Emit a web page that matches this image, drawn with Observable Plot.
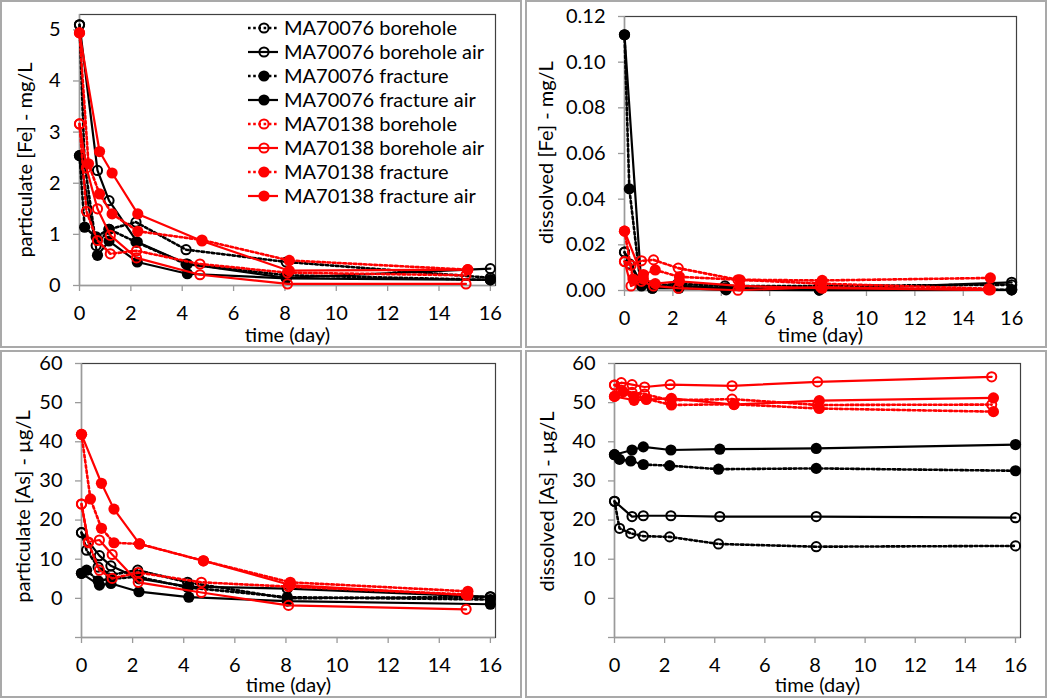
<!DOCTYPE html>
<html><head><meta charset="utf-8">
<script src="https://cdn.jsdelivr.net/npm/d3@7"></script>
<script src="https://cdn.jsdelivr.net/npm/@observablehq/plot@0.6"></script>
<style>
body{margin:0;background:#fff;font-family:Lato,sans-serif;}
#wrap{position:relative;width:1050px;height:700px;overflow:hidden;background:#fff}
.panel{position:absolute;width:525px;height:350px}
.border{position:absolute;border:2px solid #a9a9a9;box-sizing:border-box;pointer-events:none}
.legend{position:absolute;left:0;top:0;pointer-events:none}
</style></head><body><div id="wrap"></div>
<script>
// ---------- series definitions ----------
const seriesNames = ["MA70076 borehole","MA70076 borehole air","MA70076 fracture","MA70076 fracture air",
                     "MA70138 borehole","MA70138 borehole air","MA70138 fracture","MA70138 fracture air"];
const seriesColors = ["#000000","#000000","#000000","#000000","#ff0000","#ff0000","#ff0000","#ff0000"];
const seriesDotted = [true,false,true,false,true,false,true,false];
const seriesFilled = [false,false,true,true,false,false,true,true];

// ---------- sampling times (day) ----------
const tA = [0,0.2,0.65,1.15,2.2,4.15,8.05,16];
const tB = [0,0.7,1.15,2.25,4.2,8.05,16];
const tE = [0,0.27,0.7,1.2,2.22,4.69,8.1,15.05];
const tG = [0,0.35,0.78,1.27,2.27,4.77,8.17,15.12];
const tH = [0,0.78,1.27,2.27,4.77,8.17,15.12];
const seriesTimes = [tA,tB,tA,tB,tE,tE,tG,tH];

// ---------- particulate Fe (mg/L) ----------
const partFe = [
  [5.10,2.38,0.78,1.10,1.24,0.70,0.46,0.15],
  [5.10,2.25,1.66,0.85,0.42,0.15,0.33],
  [2.54,1.14,0.95,1.10,0.85,0.42,0.20,0.11],
  [2.54,0.59,0.87,0.46,0.23,0.14,0.11],
  [3.16,1.45,0.88,0.62,0.68,0.42,0.25,0.20],
  [3.16,2.30,1.50,0.98,0.54,0.21,0.03,0.03],
  [4.94,2.38,1.79,1.40,1.06,0.89,0.49,0.31],
  [4.94,2.62,2.20,1.40,0.87,0.29,0.31]
];
// ---------- dissolved Fe (mg/L) ----------
const dissFe = [
  [0.0168,0.0117,0.004,0.002,0.003,0.002,0.002,0.0025],
  [0.0168,0.003,0.001,0.002,0.001,0.0005,0.0036],
  [0.112,0.0445,0.004,0.002,0.002,0.001,0.0003,0.0003],
  [0.112,0.002,0.001,0.001,0.0003,0.0002,0.0003],
  [0.0127,0.011,0.013,0.0134,0.0098,0.0047,0.003,0.0008],
  [0.0127,0.002,0.004,0.002,0.001,0.0001,0.0015,0.0003],
  [0.026,0.005,0.007,0.009,0.006,0.0047,0.0044,0.0055],
  [0.026,0.005,0.003,0.004,0.002,0.001,0.0003]
];
// ---------- particulate As (µg/L) ----------
const partAs = [
  [16.8,12.3,8.0,6.0,7.2,4.1,0.0,0.4],
  [16.8,10.9,8.3,5.0,3.0,2.5,0.4],
  [6.4,7.2,4.5,5.0,5.5,2.8,0.3,-0.3],
  [6.4,3.4,3.8,1.7,0.3,-0.7,-1.5],
  [24.1,14.2,7.2,5.1,6.6,4.1,3.0,1.0],
  [24.1,14.4,14.9,11.2,4.1,1.5,-1.8,-2.8],
  [41.9,25.4,17.9,14.2,13.9,9.6,4.1,1.8],
  [41.9,29.4,22.8,13.9,9.6,3.4,0.8]
];
// ---------- dissolved As (µg/L) ----------
const dissAs = [
  [24.8,17.9,16.6,15.9,15.7,13.9,13.2,13.4],
  [24.8,20.9,21.1,21.1,20.9,20.9,20.6],
  [36.7,35.5,35.1,34.2,33.9,33.0,33.2,32.6],
  [36.7,37.9,38.7,37.9,38.1,38.3,39.3],
  [54.5,53.2,52.6,52.2,50.6,50.9,49.4,49.5],
  [54.5,55.1,54.6,54.0,54.6,54.3,55.3,56.6],
  [51.6,52.8,51.6,51.0,49.4,49.6,48.5,47.7],
  [51.6,50.6,50.8,51.1,49.5,50.5,51.2]
];

// ---------- axis ticks & labels ----------
const xTicks = [0,2,4,6,8,10,12,14,16];
const xLabel = "time (day)";
const yTicksFe1 = [0,1,2,3,4,5];
const yTicksFe2 = [0,0.02,0.04,0.06,0.08,0.10,0.12];
const yTicksAs = [-10,0,10,20,30,40,50,60];
const yLabels = ["particulate [Fe] - mg/L","dissolved [Fe] - mg/L","particulate [As] - µg/L","dissolved [As] - µg/L"];

const FONT = "Lato, 'Open Sans', sans-serif";

function rowsOf(values){
  return values.map((vals,i)=>seriesTimes[i].map((t,j)=>({t, v: vals[j], s: i})));
}

function panel(cfg){
  const rows = rowsOf(cfg.values);
  const marks = [
    Plot.frame({stroke:"#404040", strokeWidth:1.2}),
    Plot.ruleX([0], {stroke:"#9a9a9a", strokeWidth:1.4}),
    Plot.ruleY([cfg.yDomain[0]], {stroke:"#9a9a9a", strokeWidth:1.4}),
    Plot.axisX({ticks: xTicks, tickSize: 6, tickPadding: 14, stroke:"#9a9a9a", strokeWidth:1.3, fill:"#000", label:null, fontSize:20}),
    Plot.axisY({ticks: cfg.yTicks, tickSize: 6, tickPadding: 13, stroke:"#9a9a9a", strokeWidth:1.3, fill:"#000", label:null, fontSize:20, tickFormat: cfg.yFmt}),
    Plot.text([xLabel], {text: d=>d, frameAnchor:"bottom", lineAnchor:"middle", textAnchor:"middle", dy: cfg.xdy, fontSize: 20, fill:"#000"}),
    Plot.text([cfg.ylabel], {text: d=>d, frameAnchor:"left", lineAnchor:"middle", textAnchor:"middle", rotate:-90, dx: cfg.ydx, dy: cfg.ydy, fontSize: 20, fill:"#000"})
  ];
  rows.forEach((r,i)=>{
    const c = seriesColors[i];
    marks.push(Plot.line(r, {x:"t", y:"v", stroke:c, strokeWidth: seriesDotted[i]?2.6:2.2,
      strokeDasharray: seriesDotted[i]?"2.6,2.6":null}));
    marks.push(Plot.dot(r, {x:"t", y:"v", r: seriesFilled[i]?5.6:4.6,
      fill: seriesFilled[i]?c:"none", stroke: c, strokeWidth: seriesFilled[i]?0:2}));
  });
  return Plot.plot({
    width: 525, height: 350,
    marginLeft: cfg.ml, marginRight: cfg.mr, marginTop: cfg.mt, marginBottom: cfg.mb,
    x: {domain:[0,16.2], axis:null},
    y: {domain: cfg.yDomain, axis:null},
    style: {fontFamily: FONT, fontSize:"20px", color:"#000", background:"transparent", overflow:"visible"},
    marks
  });
}

const wrap = document.getElementById("wrap");
const configs = [
  {values: partFe, yDomain:[0,5.3], yTicks:yTicksFe1, yFmt: d=>String(d), ml:79, mr:30, mt:14, mb:65,
   ylabel: yLabels[0], xdy:50, ydx:-54, ydy:10, left:0, top:0},
  {values: dissFe, yDomain:[0,0.12], yTicks:yTicksFe2, yFmt: d3.format(".2f"), ml:99, mr:34, mt:16, mb:60,
   ylabel: yLabels[1], xdy:45, ydx:-78, ydy:-1, left:525, top:0},
  {values: partAs, yDomain:[-10,60], yTicks:yTicksAs, yFmt: d=> d<0?"":String(d), ml:81, mr:30, mt:13, mb:63,
   ylabel: yLabels[2], xdy:48, ydx:-58, ydy:6, left:0, top:350},
  {values: dissAs, yDomain:[-10,60], yTicks:yTicksAs, yFmt: d=> d<0?"":String(d), ml:89, mr:30, mt:13, mb:63,
   ylabel: yLabels[3], xdy:48, ydx:-67, ydy:1, left:525, top:350}
];

configs.forEach(cfg=>{
  const div = document.createElement("div");
  div.className = "panel";
  div.style.left = cfg.left+"px"; div.style.top = cfg.top+"px";
  div.appendChild(panel(cfg));
  wrap.appendChild(div);
  const b = document.createElement("div");
  b.className = "border";
  b.style.left = cfg.left+"px"; b.style.top = cfg.top+"px";
  b.style.width = "522px"; b.style.height = "348px";
  wrap.appendChild(b);
});

// ---------- legend (inside first panel) ----------
const ns = "http://www.w3.org/2000/svg";
const lg = document.createElementNS(ns,"svg");
lg.setAttribute("class","legend");
lg.setAttribute("width",525); lg.setAttribute("height",350);
seriesNames.forEach((name,i)=>{
  const y = 28 + 24*i, c = seriesColors[i];
  const ln = document.createElementNS(ns,"line");
  ln.setAttribute("x1",248); ln.setAttribute("x2",278); ln.setAttribute("y1",y); ln.setAttribute("y2",y);
  ln.setAttribute("stroke",c); ln.setAttribute("stroke-width", seriesDotted[i]?2.6:2.2);
  if (seriesDotted[i]) ln.setAttribute("stroke-dasharray","2.6,2.6");
  lg.appendChild(ln);
  const ci = document.createElementNS(ns,"circle");
  ci.setAttribute("cx",264); ci.setAttribute("cy",y);
  ci.setAttribute("r", seriesFilled[i]?5.6:4.6);
  ci.setAttribute("fill", seriesFilled[i]?c:"none");
  ci.setAttribute("stroke", c); ci.setAttribute("stroke-width", seriesFilled[i]?0:2);
  lg.appendChild(ci);
  const tx = document.createElementNS(ns,"text");
  tx.setAttribute("x",284); tx.setAttribute("y",y); tx.setAttribute("dy","0.35em");
  tx.setAttribute("font-family", FONT); tx.setAttribute("font-size", 20); tx.setAttribute("fill","#000");
  tx.textContent = name;
  lg.appendChild(tx);
});
const p1 = wrap.querySelector(".panel");
p1.appendChild(lg);
</script>
</body></html>
